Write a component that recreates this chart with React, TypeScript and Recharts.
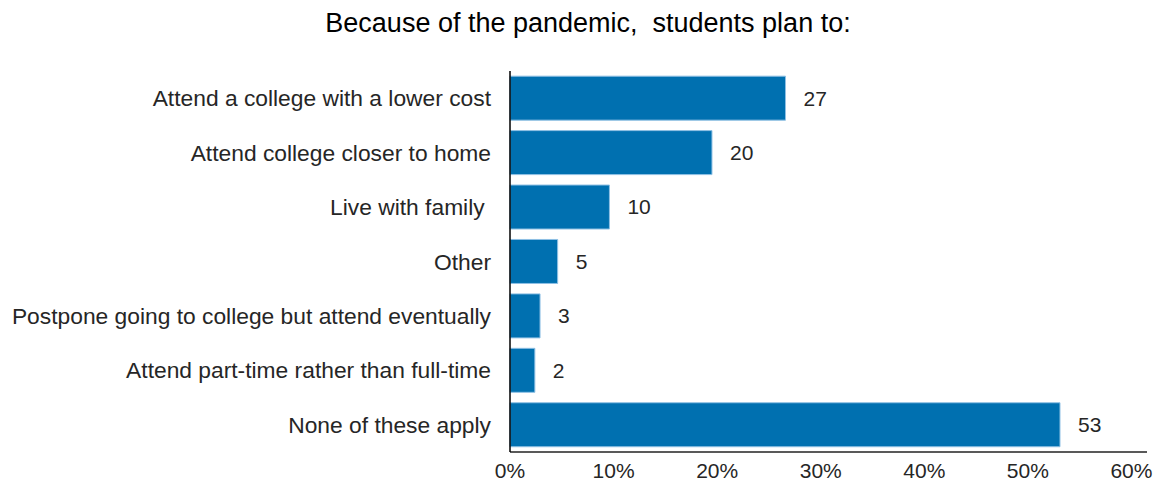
import React from "react";
import { BarChart, Bar, XAxis, YAxis, LabelList } from "recharts";

const categories = [
  "Attend a college with a lower cost",
  "Attend college closer to home",
  "Live with family\u00a0",
  "Other",
  "Postpone going to college but attend eventually",
  "Attend part-time rather than full-time",
  "None of these apply",
];
const shares = [26.6, 19.5, 9.6, 4.6, 2.9, 2.4, 53.1];
const xTicks = [0, 10, 20, 30, 40, 50, 60];

const data = categories.map((name, i) => ({ name, value: shares[i] }));

const FONT = "'Liberation Sans', Arial, sans-serif";

export default function App() {
  return (
    <div
      style={{
        position: "absolute",
        left: 0,
        top: 0,
        width: 1154,
        height: 486,
        background: "#fff",
        fontFamily: FONT,
      }}
    >
      <div
        style={{
          position: "absolute",
          left: 0,
          top: 8,
          width: 1176,
          textAlign: "center",
          fontSize: 27,
          color: "#000",
          whiteSpace: "pre",
        }}
      >
        {"Because of the pandemic,  students plan to:"}
      </div>
      <BarChart
        width={1154}
        height={486}
        data={data}
        layout="vertical"
        margin={{ top: 71, right: 7, bottom: 0, left: 0 }}
        barCategoryGap="9.5%"
      >
        <XAxis
          type="number"
          domain={[0, 61.5]}
          ticks={xTicks}
          tickFormatter={(v) => `${v}%`}
          height={34}
          tickLine={false}
          tickMargin={5}
          axisLine={{ stroke: "#595959", strokeWidth: 2 }}
          tick={{ fill: "#262626", fontSize: 21, fontFamily: FONT }}
          interval={0}
        />
        <YAxis
          type="category"
          dataKey="name"
          width={510}
          tickLine={false}
          tickMargin={13}
          axisLine={{ stroke: "#000", strokeWidth: 1.5 }}
          tick={{ fill: "#262626", fontSize: 22.8, fontFamily: FONT }}
          interval={0}
        />
        <Bar
          dataKey="value"
          fill="#0070b0"
          stroke="#8fc0e4"
          strokeWidth={1}
          isAnimationActive={false}
        >
          <LabelList
            dataKey="value"
            position="right"
            offset={18}
            formatter={(v: number) => Math.round(v)}
            style={{ fill: "#262626", fontSize: 21, fontFamily: FONT }}
          />
        </Bar>
      </BarChart>
    </div>
  );
}
